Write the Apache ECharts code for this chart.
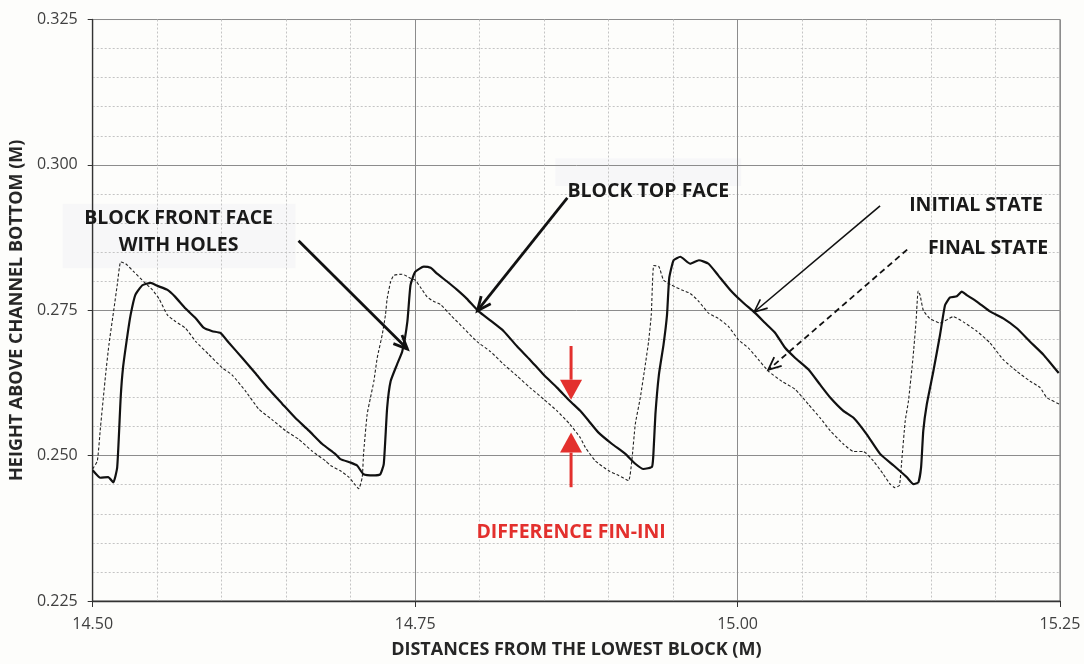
<!DOCTYPE html>
<html>
<head>
<meta charset="utf-8">
<title>Water surface profile over blocks</title>
<script src="https://cdn.jsdelivr.net/npm/echarts@6/dist/echarts.min.js"></script>
<style>
  html, body { margin: 0; padding: 0; background: #fdfdfb; overflow: hidden; width: 100%; height: 100%; }
  #main { width: 100vw; height: 100vh; }
</style>
</head>
<body>
<div id="main"></div>
<script>
// Distances from the lowest block (m) and heights above the channel bottom (m)
const initialX = [14.500,14.506,14.512,14.516,14.519,14.5217,14.5235,14.527,14.5294,14.533,14.5385,14.545,14.550,14.558,14.564,14.572,14.580,14.586,14.5927,14.599,14.6056,14.616,14.626,14.6366,14.647,14.657,14.6676,14.678,14.688,14.692,14.700,14.705,14.710,14.718,14.723,14.7257,14.7283,14.731,14.736,14.740,14.744,14.7464,14.750,14.7567,14.762,14.767,14.775,14.7826,14.790,14.7993,14.808,14.8187,14.829,14.839,14.8497,14.860,14.870,14.878,14.8845,14.892,14.9027,14.913,14.9207,14.927,14.9337,14.935,14.9363,14.939,14.9426,14.9453,14.947,14.9504,14.9556,14.9633,14.970,14.9775,14.985,14.9943,15.0034,15.0137,15.0214,15.0292,15.037,15.0447,15.055,15.064,15.0718,15.082,15.0899,15.100,15.1105,15.121,15.1312,15.1364,15.1402,15.1423,15.144,15.1467,15.1518,15.157,15.1609,15.1648,15.170,15.1738,15.1777,15.1855,15.1957,15.206,15.2165,15.2268,15.237,15.249];
const initialY = [0.2475,0.2462,0.2463,0.2454,0.2480,0.2600,0.2651,0.2708,0.2742,0.2776,0.2793,0.2797,0.2792,0.2785,0.2773,0.2753,0.2736,0.2720,0.2714,0.2711,0.2694,0.2668,0.2642,0.2614,0.2589,0.2565,0.2543,0.2520,0.2503,0.2494,0.2488,0.2483,0.2468,0.2466,0.2468,0.2486,0.2582,0.2628,0.2657,0.2679,0.2731,0.2793,0.2816,0.2825,0.2823,0.2813,0.2799,0.2785,0.2770,0.2748,0.2733,0.2714,0.2688,0.2665,0.2639,0.2617,0.2594,0.2577,0.2560,0.2540,0.2520,0.2503,0.2486,0.2477,0.2481,0.2514,0.2571,0.2639,0.2691,0.2742,0.2805,0.2836,0.2842,0.2830,0.2836,0.2830,0.2810,0.2785,0.2765,0.2745,0.2728,0.2711,0.2685,0.2668,0.2648,0.2622,0.2600,0.2577,0.2565,0.2537,0.2503,0.2483,0.2463,0.2451,0.2454,0.2480,0.2543,0.2588,0.2645,0.2708,0.2759,0.2772,0.2774,0.2782,0.2776,0.2765,0.2748,0.2736,0.2719,0.2696,0.2674,0.2642];

const finalX = [14.500,14.5036,14.506,14.510,14.5126,14.5165,14.519,14.5217,14.5256,14.532,14.5397,14.5463,14.5514,14.5579,14.564,14.572,14.580,14.590,14.6005,14.608,14.6185,14.6288,14.639,14.6495,14.6598,14.670,14.6805,14.6844,14.692,14.6986,14.7038,14.7063,14.709,14.710,14.7128,14.7154,14.718,14.7206,14.7245,14.727,14.7283,14.731,14.7335,14.740,14.7464,14.750,14.754,14.7593,14.7645,14.7696,14.7774,14.7877,14.798,14.8084,14.8187,14.829,14.839,14.8497,14.860,14.870,14.878,14.882,14.8897,14.900,14.9078,14.9155,14.918,14.9207,14.9246,14.9285,14.931,14.9331,14.935,14.939,14.9426,14.949,14.9568,14.9633,14.970,14.9775,14.985,14.993,15.0007,15.0085,15.0162,15.024,15.0343,15.0447,15.055,15.064,15.0718,15.082,15.0899,15.0976,15.1053,15.113,15.1183,15.122,15.1255,15.1273,15.130,15.1325,15.136,15.1384,15.140,15.1415,15.144,15.149,15.157,15.1673,15.175,15.1855,15.1957,15.206,15.2165,15.2268,15.2346,15.2397,15.250];
const finalY = [0.2477,0.2491,0.2548,0.2639,0.2691,0.2753,0.2793,0.2833,0.2830,0.2816,0.2799,0.2785,0.2770,0.2742,0.2731,0.2719,0.2696,0.2674,0.2651,0.2639,0.2611,0.2580,0.2562,0.2543,0.2528,0.2508,0.2491,0.2483,0.2474,0.2463,0.2449,0.2443,0.2463,0.2503,0.2571,0.2600,0.2628,0.2668,0.2708,0.2742,0.2770,0.2799,0.2810,0.2812,0.2805,0.2802,0.2790,0.2773,0.2765,0.2760,0.2742,0.2719,0.2696,0.2679,0.2657,0.2637,0.2617,0.2597,0.2577,0.2554,0.2531,0.2514,0.2491,0.2474,0.2466,0.2457,0.2491,0.2554,0.2600,0.2657,0.2696,0.2742,0.2827,0.2825,0.2802,0.2793,0.2785,0.2779,0.2765,0.2745,0.2736,0.2722,0.2699,0.2685,0.2665,0.2645,0.2628,0.2614,0.2588,0.2565,0.2543,0.2520,0.2507,0.2507,0.2491,0.2468,0.2451,0.2445,0.2449,0.2491,0.2560,0.2594,0.2668,0.2731,0.2783,0.2776,0.2750,0.2736,0.2728,0.2739,0.2730,0.2714,0.2694,0.2665,0.2645,0.2628,0.2617,0.2600,0.2588];

const xTicks = { min: 14.50, max: 15.25, step: 0.25 };
const yTicks = { min: 0.225, max: 0.325, step: 0.025 };

const zip = (xs, ys) => xs.map((x, i) => [x, ys[i]]);

const FONT = '"Open Sans", "Liberation Sans", sans-serif';
const RED = '#e3302d';

const chart = echarts.init(document.getElementById('main'), null, { renderer: 'canvas' });

const option = {
  backgroundColor: '#fdfdfb',
  animation: false,
  grid: { left: 92, right: 24, top: '2.94%', bottom: '9.04%', show: true, borderColor: '#6a6a6a', borderWidth: 1, containLabel: false },
  xAxis: {
    type: 'value',
    min: xTicks.min, max: xTicks.max, interval: xTicks.step,
    name: 'DISTANCES FROM THE LOWEST BLOCK (M)',
    nameLocation: 'middle', nameGap: 40,
    nameTextStyle: { fontFamily: FONT, fontWeight: 'bold', fontSize: 18, color: '#262626' },
    axisLine: { show: true, onZero: false, lineStyle: { color: '#333', width: 1.3 } },
    axisTick: { show: true, length: 6, lineStyle: { color: '#333' } },
    axisLabel: { fontFamily: FONT, fontSize: 16, color: '#404040', margin: 15, formatter: v => v.toFixed(2) },
    splitLine: { show: true, lineStyle: { color: '#8c8c8c', width: 1 } },
    minorTick: { show: true, splitNumber: 5, length: 0 },
    minorSplitLine: { show: true, lineStyle: { color: '#c4c4c4', width: 1, type: [2, 2] } }
  },
  yAxis: {
    type: 'value',
    min: yTicks.min, max: yTicks.max, interval: yTicks.step,
    name: 'HEIGHT ABOVE CHANNEL BOTTOM (M)',
    nameLocation: 'middle', nameGap: 62, nameRotate: 90,
    nameTextStyle: { fontFamily: FONT, fontWeight: 'bold', fontSize: 18, color: '#262626' },
    axisLine: { show: true, onZero: false, lineStyle: { color: '#333', width: 1.3 } },
    axisTick: { show: true, length: 5, lineStyle: { color: '#333' } },
    axisLabel: { fontFamily: FONT, fontSize: 16, color: '#404040', margin: 15, formatter: v => v.toFixed(3) },
    splitLine: { show: true, lineStyle: { color: '#8c8c8c', width: 1 } },
    minorTick: { show: true, splitNumber: 5, length: 0 },
    minorSplitLine: { show: true, lineStyle: { color: '#c4c4c4', width: 1, type: [2, 2] } }
  },
  series: [
    {
      name: 'INITIAL STATE', type: 'line', data: zip(initialX, initialY),
      showSymbol: false, smooth: 0.15, z: 4,
      lineStyle: { color: '#111', width: 2.2 }
    },
    {
      name: 'FINAL STATE', type: 'line', data: zip(finalX, finalY),
      showSymbol: false, smooth: 0.15, z: 3,
      lineStyle: { color: '#222', width: 1.1, type: [3, 2] }
    }
  ]
};
chart.setOption(option);

// Annotation anchors, in axis units
const notes = {
  frontArrow: [[14.6596, 0.28697], [14.7440, 0.26834]],
  topArrow:   [[14.8680, 0.29432], [14.7983, 0.27492]],
  initArrow:  [[15.1105, 0.29295], [15.0129, 0.27470]],
  finalArrow: [[15.1315, 0.28543], [15.0238, 0.26475]],
  diffDown:   [[14.8709, 0.26885], [14.8709, 0.25962]],
  diffUp:     [[14.8709, 0.24457], [14.8709, 0.25397]]
};

const P = p => chart.convertToPixel({ gridIndex: 0 }, p);

function openArrow(a, b, width, dash, len) {
  const [x1, y1] = P(a), [x2, y2] = P(b);
  const ang = Math.atan2(y2 - y1, x2 - x1);
  const spread = Math.PI / 7.5;
  const h1 = [x2 - len * Math.cos(ang - spread), y2 - len * Math.sin(ang - spread)];
  const h2 = [x2 - len * Math.cos(ang + spread), y2 - len * Math.sin(ang + spread)];
  return [
    { type: 'line', z: 20, shape: { x1, y1, x2, y2 }, style: { stroke: '#111', lineWidth: width, lineDash: dash || null } },
    { type: 'polyline', z: 20, shape: { points: [h1, [x2, y2], h2] }, style: { stroke: '#111', lineWidth: width, fill: null } }
  ];
}

function redArrow(a, b) {
  const [x1, y1] = P(a), [x2, y2] = P(b);
  const dir = Math.sign(y2 - y1);
  const headH = 20, headW = 11;
  return [
    { type: 'line', z: 20, shape: { x1, y1, x2, y2: y2 - dir * headH }, style: { stroke: RED, lineWidth: 3 } },
    { type: 'polygon', z: 20, shape: { points: [[x2 - headW, y2 - dir * headH], [x2 + headW, y2 - dir * headH], [x2, y2]] }, style: { fill: RED } }
  ];
}

function label(text, at, color, align) {
  const [x, y] = P(at);
  return {
    type: 'text', z: 20, x, y,
    style: { text, fill: color || '#1a1a1a', font: 'bold 19.5px ' + FONT, align: align || 'center', verticalAlign: 'middle' }
  };
}

function softBox(a, b) {
  const [x1, y1] = P(a), [x2, y2] = P(b);
  return { type: 'rect', z: -5, shape: { x: x1, y: y1, width: x2 - x1, height: y2 - y1 }, style: { fill: '#f4f4f7', opacity: 0.6 } };
}

const graphics = [
  softBox([14.4768, 0.29333], [14.6573, 0.28222]),
  softBox([14.8587, 0.30115], [15.0028, 0.29636]),
  ...openArrow(notes.frontArrow[0], notes.frontArrow[1], 2.8, null, 15),
  ...openArrow(notes.topArrow[0], notes.topArrow[1], 2.8, null, 15),
  ...openArrow(notes.initArrow[0], notes.initArrow[1], 1.6, null, 14),
  ...openArrow(notes.finalArrow[0], notes.finalArrow[1], 1.8, [6, 4], 14),
  ...redArrow(notes.diffDown[0], notes.diffDown[1]),
  ...redArrow(notes.diffUp[0], notes.diffUp[1]),
  label('BLOCK FRONT FACE', [14.5666, 0.29086]),
  label('WITH HOLES', [14.5666, 0.28607]),
  label('BLOCK TOP FACE', [14.9308, 0.29551]),
  label('INITIAL STATE', [15.1849, 0.29295]),
  label('FINAL STATE', [15.1942, 0.28560]),
  label('DIFFERENCE FIN-INI', [14.8709, 0.23671], RED)
];

chart.setOption({ graphic: { elements: graphics } });
</script>
</body>
</html>
